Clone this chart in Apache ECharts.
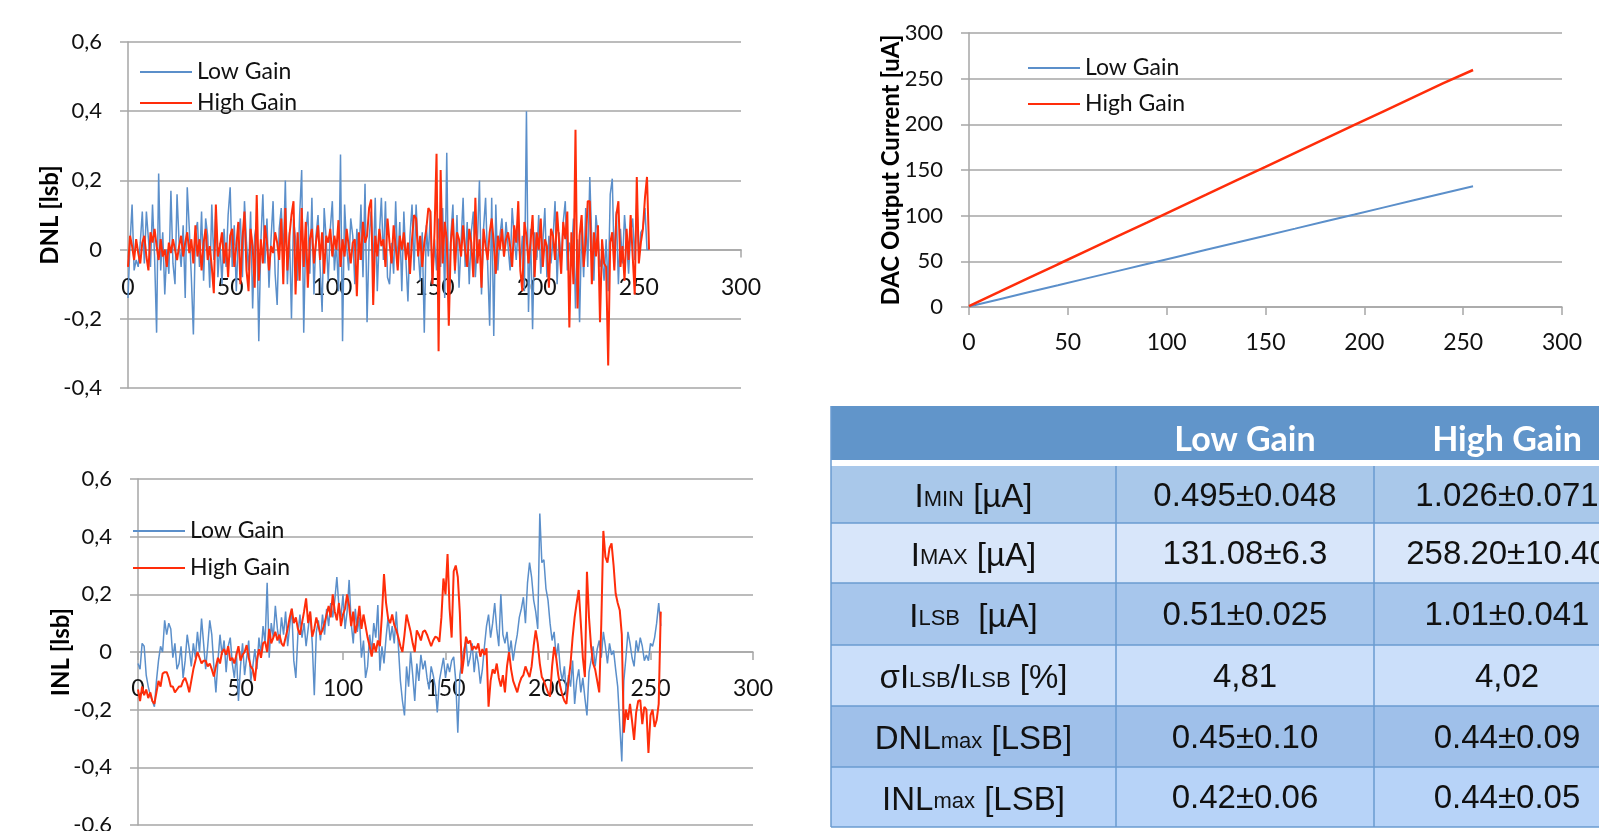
<!DOCTYPE html>
<html>
<head>
<meta charset="utf-8">
<script src="https://cdn.jsdelivr.net/npm/echarts@6.0.0/dist/echarts.min.js"></script>
<style>
html,body{margin:0;padding:0;background:#fff;}
#main{width:1599px;height:831px;}
</style>
</head>
<body>
<div id="main"></div>
<script>
// DNL per code (0..255)
var dnlLow = [
    -0.14, 0.02, 0.13, -0.06, -0.03, -0.05, 0.02, 0.11, -0.04, 0.11, 0.03, -0.05, 0.13, -0.02, -0.24, 0.22,
    -0.06, 0.05, -0.13, 0.00, -0.07, 0.17, -0.04, -0.10, 0.16, 0.02, -0.05, 0.07, -0.14, 0.18, 0.06, -0.08,
    -0.245, 0.05, 0.08, -0.05, 0.11, -0.09, 0.09, 0.04, -0.11, 0.13, -0.03, 0.12, -0.08, 0.02, -0.10, 0.06,
    -0.05, 0.10, 0.18, -0.05, 0.07, -0.12, 0.04, 0.09, -0.08, 0.14, 0.02, -0.06, 0.11, -0.17, 0.04, 0.08,
    -0.265, 0.02, 0.16, -0.04, 0.09, -0.11, 0.03, 0.14, -0.07, -0.16, 0.06, 0.12, -0.02, 0.20, -0.10, 0.05,
    -0.20, 0.09, 0.03, -0.09, 0.10, 0.23, -0.24, 0.05, 0.11, -0.07, 0.15, -0.13, 0.04, 0.10, -0.05, -0.18,
    0.12, 0.03, -0.09, 0.06, 0.14, -0.06, 0.02, -0.12, 0.275, -0.265, 0.13, 0.01, -0.06, 0.09, 0.04, -0.10,
    0.06, -0.03, 0.13, -0.08, 0.19, -0.21, 0.03, 0.11, -0.05, 0.15, -0.12, 0.04, 0.15, -0.03, 0.14, -0.08,
    -0.10, 0.02, -0.07, 0.14, -0.05, 0.08, -0.12, 0.11, -0.03, -0.15, 0.04, 0.13, -0.06, 0.13, 0.00, -0.09,
    0.05, -0.24, 0.07, -0.02, 0.11, -0.10, 0.03, -0.06, 0.09, -0.05, 0.12, -0.14, 0.28, -0.17, 0.04, 0.13,
    -0.07, 0.10, -0.11, 0.02, 0.15, -0.05, 0.08, -0.10, 0.05, 0.11, -0.08, 0.02, 0.20, -0.13, 0.06, 0.15,
    -0.04, -0.22, 0.15, -0.25, 0.13, -0.06, 0.04, 0.09, -0.02, 0.08, 0.01, -0.06, 0.12, 0.04, -0.03, 0.07,
    -0.05, 0.04, -0.12, 0.40, -0.18, 0.06, -0.23, 0.05, -0.03, 0.10, -0.07, 0.02, 0.12, -0.08, 0.04, -0.04,
    0.03, 0.14, -0.10, 0.05, -0.04, 0.08, 0.14, -0.06, 0.02, -0.02, 0.09, -0.17, 0.03, -0.21, 0.06, -0.08,
    0.12, -0.05, 0.21, 0.02, -0.09, 0.10, 0.04, -0.05, -0.02, -0.09, 0.03, -0.12, 0.16, 0.205, -0.05, 0.11,
    -0.10, 0.06, -0.04, 0.10, 0.02, -0.07, 0.05, 0.09, -0.03, 0.14, -0.02, 0.05, 0.06, 0.12, 0.00, 0.00
];
var dnlHigh = [
    -0.05, 0.04, 0.01, -0.03, 0.03, -0.01, -0.04, 0.02, 0.04, -0.02, -0.06, 0.05, 0.02, 0.06, 0.01, -0.03,
    0.03, -0.02, 0.00, -0.05, 0.02, -0.01, 0.03, 0.00, -0.03, 0.01, 0.04, -0.02, 0.02, 0.05, -0.01, 0.03,
    -0.04, 0.07, -0.02, 0.03, -0.06, 0.02, 0.06, -0.03, 0.01, -0.05, -0.126, 0.13, -0.02, 0.01, 0.05, -0.04,
    0.02, -0.08, 0.04, 0.06, -0.05, 0.01, 0.08, -0.10, 0.03, 0.11, -0.06, -0.12, 0.06, 0.01, -0.11, 0.158,
    -0.09, 0.03, -0.04, 0.07, 0.02, -0.06, 0.01, -0.01, 0.05, 0.02, -0.03, 0.09, -0.10, 0.12, -0.06, 0.04,
    0.10, 0.14, -0.13, 0.05, -0.09, 0.12, -0.05, 0.08, -0.11, 0.03, 0.06, -0.04, 0.02, 0.07, -0.03, 0.05,
    -0.07, 0.04, 0.02, 0.06, -0.02, 0.04, 0.00, 0.085, -0.05, 0.03, -0.02, 0.06, 0.01, -0.04, 0.02, 0.03,
    -0.135, 0.05, -0.03, 0.08, 0.02, 0.04, 0.12, 0.145, -0.16, 0.04, -0.02, 0.06, 0.01, 0.03, -0.05, 0.09,
    0.02, -0.04, 0.07, 0.01, -0.06, 0.04, 0.00, 0.05, -0.03, 0.02, -0.07, 0.03, 0.10, 0.09, -0.02, 0.04,
    -0.05, 0.02, 0.06, 0.12, 0.11, -0.10, 0.05, 0.277, -0.294, 0.23, -0.04, 0.08, 0.03, -0.22, 0.02, 0.09,
    -0.06, 0.05, 0.03, -0.02, 0.07, 0.00, -0.05, 0.06, 0.02, -0.08, 0.15, -0.04, 0.03, -0.11, 0.06, 0.01,
    -0.03, 0.05, 0.09, 0.02, -0.07, 0.04, 0.00, 0.06, -0.02, 0.03, 0.05, 0.01, -0.05, 0.07, 0.02, 0.14,
    -0.06, -0.12, 0.08, 0.04, -0.04, 0.02, 0.10, -0.08, 0.05, 0.00, 0.09, -0.05, 0.03, 0.01, -0.11, 0.06,
    0.04, -0.03, 0.11, 0.02, -0.07, 0.08, 0.03, 0.11, -0.225, 0.05, -0.10, 0.346, -0.17, 0.04, 0.10, -0.05,
    0.02, 0.14, 0.14, -0.10, 0.05, -0.02, 0.07, -0.21, 0.03, -0.04, -0.05, -0.335, 0.02, 0.05, -0.06, 0.10,
    0.14, -0.05, 0.01, -0.09, 0.06, -0.03, 0.10, -0.02, -0.13, 0.21, -0.04, 0.02, 0.06, 0.15, 0.21, 0.00
];
// INL per code (0..255)
var inlLow = [
    -0.04, -0.06, 0.03, 0.02, -0.08, -0.12, -0.15, -0.17, -0.19, -0.10, -0.03, 0.02, 0.00, 0.11, 0.06, 0.10,
    0.08, -0.02, 0.03, -0.06, -0.04, 0.02, -0.09, -0.03, 0.06, 0.01, -0.05, 0.03, -0.02, 0.07, 0.00, 0.116,
    0.03, -0.06, 0.02, 0.11, 0.06, -0.05, -0.14, -0.03, 0.06, -0.01, 0.04, -0.07, 0.02, 0.05, -0.04, -0.09,
    0.00, -0.17, -0.05, 0.03, -0.08, -0.02, 0.04, -0.10, -0.05, 0.01, -0.06, 0.05, -0.01, 0.09, 0.03, 0.24,
    -0.02, 0.10, 0.05, 0.16, 0.08, 0.03, 0.12, 0.06, 0.14, 0.02, 0.09, 0.15, -0.03, -0.09, 0.06, 0.13,
    0.05, 0.10, 0.02, 0.08, 0.14, 0.03, -0.15, 0.07, 0.11, 0.04, 0.13, 0.06, 0.15, 0.09, 0.17, 0.12,
    0.18, 0.26, 0.16, 0.12, 0.20, 0.08, 0.14, 0.25, 0.10, 0.03, 0.15, 0.07, 0.12, -0.02, 0.04, -0.09,
    -0.05, 0.06, 0.00, 0.10, 0.05, 0.163, -0.065, 0.02, -0.04, 0.05, 0.12, 0.04, 0.09, 0.03, 0.14, 0.02,
    -0.10, -0.17, -0.22, -0.05, -0.12, 0.00, -0.08, -0.17, -0.04, -0.10, -0.01, -0.06, -0.03, -0.09, -0.13, -0.05,
    -0.08, -0.12, -0.21, -0.10, -0.06, -0.02, -0.09, -0.04, -0.07, -0.03, -0.017, -0.10, -0.28, -0.08, -0.03, 0.01,
    0.04, -0.05, -0.02, 0.03, -0.07, 0.00, -0.04, -0.11, -0.06, 0.02, 0.09, 0.13, 0.05, 0.10, 0.17, 0.08,
    0.02, 0.20, 0.06, 0.03, 0.07, -0.01, 0.04, -0.03, 0.02, 0.06, 0.12, 0.15, 0.19, 0.10, 0.24, 0.31,
    0.26, 0.18, 0.14, 0.08, 0.48, 0.31, 0.32, 0.22, 0.18, 0.10, 0.04, 0.07, -0.02, 0.03, -0.06, -0.10,
    -0.05, -0.155, -0.08, -0.12, -0.03, -0.18, -0.10, -0.06, -0.14, -0.09, -0.16, -0.22, -0.07, -0.03, 0.02, -0.05,
    0.01, 0.04, -0.02, 0.07, 0.02, -0.04, 0.03, -0.01, 0.005, -0.06, -0.12, -0.25, -0.38, -0.10, -0.02, 0.07,
    0.03, -0.02, -0.05, 0.04, 0.00, 0.05, 0.02, -0.03, -0.01, -0.03, 0.03, 0.02, 0.05, 0.10, 0.17, 0.09
];
var inlHigh = [
    -0.13, -0.17, -0.12, -0.15, -0.13, -0.16, -0.14, -0.17, -0.18, -0.14, -0.10, -0.12, -0.075, -0.07, -0.07, -0.09,
    -0.12, -0.12, -0.14, -0.13, -0.12, -0.12, -0.10, -0.09, -0.11, -0.14, -0.10, -0.06, -0.03, 0.00, -0.02, -0.04,
    -0.03, -0.03, -0.05, -0.04, -0.06, -0.085, -0.05, -0.02, -0.04, 0.00, 0.01, -0.01, 0.02, -0.03, -0.02, -0.04,
    -0.01, 0.02, -0.03, -0.01, 0.00, 0.024, -0.02, -0.05, -0.06, -0.10, -0.03, 0.01, -0.02, 0.03, 0.036, 0.00,
    0.08, 0.03, 0.05, 0.07, 0.04, 0.06, 0.03, 0.02, 0.05, 0.08, 0.12, 0.15, 0.10, 0.12, 0.08, 0.06,
    0.10, 0.14, 0.186, 0.10, 0.14, 0.053, 0.08, 0.12, 0.09, 0.06, 0.076, 0.10, 0.13, 0.16, 0.12, 0.20,
    0.14, 0.11, 0.17, 0.09, 0.13, 0.15, 0.20, 0.16, 0.09, 0.14, 0.065, 0.10, 0.16, 0.08, 0.13, 0.09,
    0.05, 0.02, -0.016, 0.03, 0.00, 0.04, 0.02, 0.13, 0.27, 0.17, 0.117, 0.10, 0.13, 0.094, 0.076, 0.05,
    0.02, 0.00, 0.06, 0.13, 0.10, 0.07, 0.03, 0.00, 0.075, 0.06, 0.04, 0.07, 0.075, 0.06, 0.04, 0.02,
    0.04, 0.053, 0.05, 0.035, 0.12, 0.255, 0.20, 0.34, 0.15, 0.05, 0.28, 0.30, 0.26, 0.134, -0.075, -0.02,
    0.053, 0.03, 0.04, 0.007, 0.02, 0.01, 0.03, -0.016, 0.01, -0.01, 0.013, -0.19, -0.10, -0.06, -0.075, -0.04,
    -0.09, -0.12, -0.08, -0.14, -0.05, 0.00, -0.06, -0.10, -0.12, -0.14, -0.11, -0.09, -0.08, -0.05, -0.07, -0.087,
    -0.05, 0.02, 0.075, 0.03, -0.04, -0.087, -0.10, -0.12, -0.14, -0.155, -0.05, 0.018, -0.02, -0.08, -0.12, -0.15,
    -0.17, -0.18, -0.10, -0.04, 0.05, 0.12, 0.17, 0.215, 0.10, -0.02, -0.087, 0.278, 0.12, 0.02, -0.04, -0.06,
    -0.10, -0.14, 0.10, 0.42, 0.33, 0.31, 0.36, 0.377, 0.30, 0.203, 0.17, 0.145, 0.06, -0.28, -0.20, -0.235,
    -0.18, -0.24, -0.305, -0.21, -0.17, -0.167, -0.25, -0.19, -0.20, -0.35, -0.22, -0.20, -0.26, -0.236, -0.18, 0.14
];
// DAC transfer curve [uA]
var dacCodes = [0, 15, 30, 45, 60, 75, 90, 105, 120, 135, 150, 165, 180, 195, 210, 225, 240, 255];
var dacLow = [0.5, 8.3, 16.1, 23.8, 31.6, 39.3, 47.1, 54.8, 62.6, 70.3, 78.1, 85.8, 93.6, 101.3, 109.1, 116.8, 124.6, 132.2];
var dacHigh = [1.0, 16.2, 31.5, 46.8, 62.0, 77.3, 92.5, 107.8, 123.0, 138.3, 153.5, 168.8, 184.0, 199.3, 214.5, 229.8, 245.0, 259.5];

// table
var tableHeader = ['', 'Low Gain', 'High Gain'];
var tableRowLabels = [
    '{n|I}{s|MIN}{n| [µA]}',
    '{n|I}{s|MAX}{n| [µA]}',
    '{n|I}{s|LSB}{n|  [µA]}',
    '{n|σI}{s|LSB}{n|/I}{s|LSB}{n| [%]}',
    '{n|DNL}{s|max}{n| [LSB]}',
    '{n|INL}{s|max}{n| [LSB]}'
];
var tableLow = ['0.495±0.048', '131.08±6.3', '0.51±0.025', '4,81', '0.45±0.10', '0.42±0.06'];
var tableHigh = ['1.026±0.071', '258.20±10.40', '1.01±0.041', '4,02', '0.44±0.09', '0.44±0.05'];

var blue = '#5b8fca';
var red = '#ff2d0a';
var gridColor = '#a6a6a6';
var legendNames = ['Low Gain', 'High Gain'];

var myChart = echarts.init(document.getElementById('main'));

function toPairs(xs, vals){
    var out = [];
    for(var i = 0; i < vals.length; i++){
        out.push([xs ? xs[i] : i, vals[i]]);
    }
    return out;
}

function commaLabel(v){
    var r = Math.round(v * 10) / 10;
    if(r === 0) return '0';
    return String(r).replace('.', ',');
}

// offset moves the x axis up onto the zero line (onZero did not carry the labels)
function getXAxis(gridIndex, margin, offset){
    return {
        type: 'value',
        gridIndex: gridIndex,
        min: 0,
        max: 300,
        interval: 50,
        offset: offset,
        axisLine: { show: true, onZero: false, lineStyle: { color: gridColor, width: 1.5 } },
        axisTick: { show: true, length: 8, lineStyle: { color: gridColor, width: 1.5 } },
        axisLabel: { margin: margin, color: '#111', fontSize: 23, fontFamily: 'Lato' },
        splitLine: { show: false }
    };
}

function getYAxis(gridIndex, min, max, interval, name, nameGap, formatter){
    return {
        type: 'value',
        gridIndex: gridIndex,
        min: min,
        max: max,
        interval: interval,
        name: name,
        nameLocation: 'middle',
        nameGap: nameGap,
        nameMoveOverlap: false,
        nameTextStyle: { fontFamily: 'Lato', fontWeight: 'bold', fontSize: 24, color: '#000' },
        axisLine: { show: true, lineStyle: { color: gridColor, width: 1.5 } },
        axisTick: { show: true, length: 8, lineStyle: { color: gridColor, width: 1.5 } },
        axisLabel: { margin: 26, color: '#111', fontSize: 22, fontFamily: 'Lato', formatter: formatter },
        splitLine: { show: true, lineStyle: { color: gridColor, width: 1.5 } }
    };
}

function getLegend(left, top, gap){
    return {
        data: legendNames,
        orient: 'vertical',
        left: left,
        top: top,
        icon: 'rect',
        itemWidth: 52,
        itemHeight: 2,
        itemGap: gap,
        padding: 0,
        selectedMode: false,
        textStyle: { fontFamily: 'Lato', fontSize: 23, color: '#111', lineHeight: 24 }
    };
}

function lineSeries(name, color, width, xi, data){
    return {
        name: name,
        type: 'line',
        xAxisIndex: xi,
        yAxisIndex: xi,
        data: data,
        showSymbol: false,
        symbol: 'none',
        lineStyle: { color: color, width: width },
        itemStyle: { color: color },
        emphasis: { disabled: true }
    };
}

function getTable(){
    var colX = [831, 1116, 1374, 1640];
    var rowY = [466, 523, 583, 645, 706, 767, 827];
    var rowFill = ['#a9c8ea', '#d8e6fa', '#a7c6ec', '#cbdffa', '#9fc0ea', '#b7d3f8'];
    var lineColor = '#6a9bd1';
    var els = [];

    els.push({ type: 'rect', shape: { x: colX[0], y: 406, width: colX[3] - colX[0], height: 54 }, style: { fill: '#6195ca' } });
    for(var i = 0; i < 6; i++){
        els.push({ type: 'rect', shape: { x: colX[0], y: rowY[i], width: colX[3] - colX[0], height: rowY[i + 1] - rowY[i] }, style: { fill: rowFill[i] } });
    }
    // grid lines of the table
    for(var j = 1; j < rowY.length; j++){
        els.push({ type: 'line', shape: { x1: colX[0], y1: rowY[j], x2: colX[3], y2: rowY[j] }, style: { stroke: lineColor, lineWidth: 1.5 } });
    }
    els.push({ type: 'line', shape: { x1: colX[1], y1: rowY[0], x2: colX[1], y2: rowY[6] }, style: { stroke: lineColor, lineWidth: 1.5 } });
    els.push({ type: 'line', shape: { x1: colX[2], y1: rowY[0], x2: colX[2], y2: rowY[6] }, style: { stroke: lineColor, lineWidth: 1.5 } });
    els.push({ type: 'line', shape: { x1: colX[0], y1: 406, x2: colX[0], y2: rowY[6] }, style: { stroke: lineColor, lineWidth: 1.5 } });

    for(var c = 1; c < 3; c++){
        els.push({ type: 'text', x: (colX[c] + colX[c + 1]) / 2, y: 440,
            style: { text: tableHeader[c], fill: '#fff', fontFamily: 'Lato', fontWeight: 'bold', fontSize: 34, align: 'center', verticalAlign: 'middle' } });
    }

    for(var r = 0; r < 6; r++){
        var cy = (rowY[r] + rowY[r + 1]) / 2 + 2;
        els.push({ type: 'text', x: (colX[0] + colX[1]) / 2, y: cy,
            style: { text: tableRowLabels[r], fill: '#111', align: 'center', verticalAlign: 'middle',
                rich: {
                    n: { fontFamily: 'Liberation Sans', fontSize: 33, lineHeight: 36, verticalAlign: 'bottom', color: '#111' },
                    s: { fontFamily: 'Liberation Sans', fontSize: 22, lineHeight: 30, verticalAlign: 'bottom', padding: [0, 0, 4, 0], color: '#111' }
                } } });
        els.push({ type: 'text', x: (colX[1] + colX[2]) / 2, y: cy,
            style: { text: tableLow[r], fill: '#111', fontFamily: 'Liberation Sans', fontSize: 33, align: 'center', verticalAlign: 'middle' } });
        els.push({ type: 'text', x: (colX[2] + colX[3]) / 2, y: cy,
            style: { text: tableHigh[r], fill: '#111', fontFamily: 'Liberation Sans', fontSize: 33, align: 'center', verticalAlign: 'middle' } });
    }
    return els;
}

function getOption(){
    var option = {
        animation: false,
        backgroundColor: '#fff',
        grid: [
            { left: 128, top: 42, width: 613, height: 346, outerBoundsMode: 'none' },
            { left: 138, top: 479, width: 615, height: 346, outerBoundsMode: 'none' },
            { left: 969, top: 33, width: 593, height: 274, outerBoundsMode: 'none' }
        ],
        legend: [
            getLegend(140, 60, 7),
            getLegend(133, 519, 13),
            getLegend(1028, 56, 12)
        ],
        xAxis: [
            getXAxis(0, 26, -138.4),
            getXAxis(1, 25, -173),
            getXAxis(2, 24, 0)
        ],
        yAxis: [
            getYAxis(0, -0.4, 0.6, 0.2, 'DNL [lsb]', 66, commaLabel),
            getYAxis(1, -0.6, 0.6, 0.2, 'INL [lsb]', 65, commaLabel),
            getYAxis(2, 0, 300, 50, 'DAC Output Current [uA]', 66, null)
        ],
        series: [
            lineSeries('Low Gain', blue, 1.5, 0, toPairs(null, dnlLow)),
            lineSeries('High Gain', red, 2, 0, toPairs(null, dnlHigh)),
            lineSeries('Low Gain', blue, 1.5, 1, toPairs(null, inlLow)),
            lineSeries('High Gain', red, 2, 1, toPairs(null, inlHigh)),
            lineSeries('Low Gain', blue, 2, 2, toPairs(dacCodes, dacLow)),
            lineSeries('High Gain', red, 2.5, 2, toPairs(dacCodes, dacHigh))
        ],
        graphic: getTable()
    };
    return option;
}

myChart.setOption(getOption());
window.onresize = myChart.resize;
</script>
</body>
</html>
